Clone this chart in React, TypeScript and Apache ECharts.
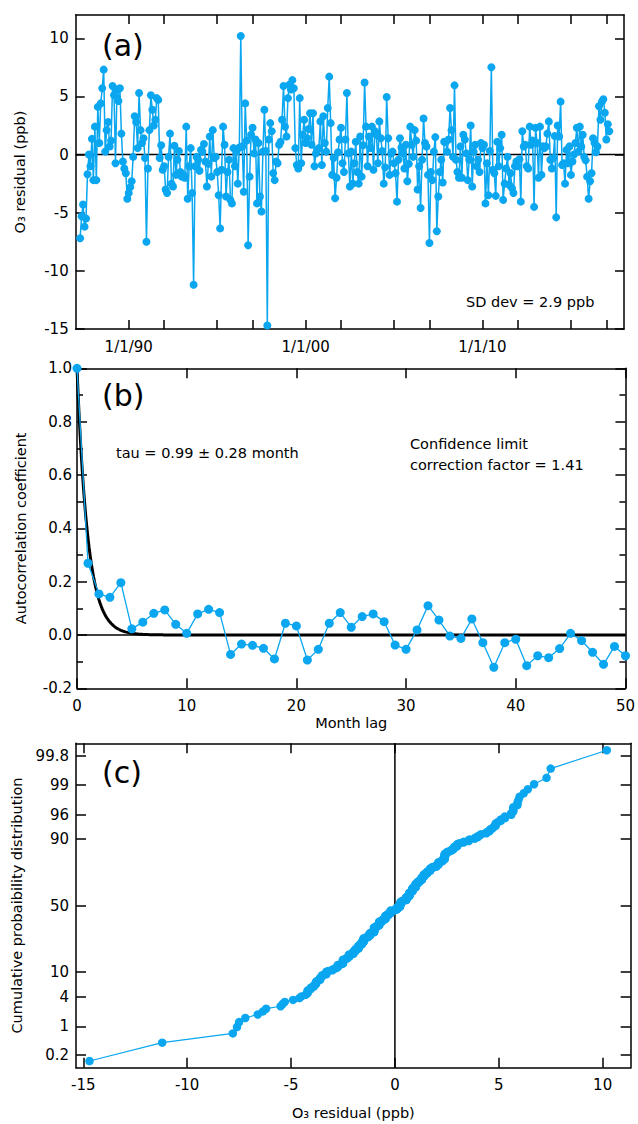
import React, { useEffect, useRef } from "react";
import * as echarts from "echarts";

// ---------- DATA ----------
// Monthly O3 residuals (ppb), first value at 1987.25, one value per month
const START_YEAR = 1987.25;
const residualsA = [
  -7.2, -5.3, -4.3, -6.2, -5.5, -1.7, 0, -1, 1.35, -2.2, 2.4, -2.2, 4.1, 1.0, 4.4, 5.7, 7.3,
  0.25, 2.1, 2.8, 0.7, 1.2, 5.9, 5.1, -0.75, 5.6, 4.6, 5.7, 1.8, -0.6, -1.2, -1.6, -3.8, -3.3, -2.8, -2.3, -0.2, 3.3, 2.8, 0.55, 5.3, 2.1, 1.0, 1.4, -0.3,
  -7.5,
  -1.2, 2.1, 5.1, 3.85, 2.5, 3.0, 4.85, 4.7, -0.3, 0.8, -1.3, -1.0, -3.0, -3.3, -0.2, 1.8, -2.5, -2.75, 0.75, -1.75, -0.45, 0.3, -1.5, -1.9, -1.75, -2.0, 2.4, -3.8, -1.0, 0.55, -3.3,
  -11.2,
  -1, -0.2, -0.45, -1.4, 0.4, 0.25, 0.9, -0.6, -2.75, -0.8, 1.55, -1.9, 2.1,
];
const residualsB = [
  -0.3, -0.2, -1.5, -3.5, -6.35, -1.3, 2.4, 0.85, -3.6, -1.5, -0.45, -3.9, -4.2, 0.55, -1.0, 0.25, -2.5, 0.6,
  10.2,
  0.7, -3.2, 4.4, 1.2,
  -7.8,
  -1.9, 1.7, 2.3, 0.1, 1.3, -4.2, 1.0, -3.6, -4.9, 0.25, 3.85, 0.3,
  -14.7,
  1.3, 2.7, 2.0, -1.6, -2.2, -0.6, -0.75, 0.85, 1.1, 3.0, 5.9, 2.4, 1.55, 4.85, 6.0, 5.6, 6.4, 5.7, 0.55, -0.9, -1.2, 4.85, -0.75, 1.7, 3.0, 1.0, 1.4, 2.2, 3.55, 0.85, 3.55, -1.0, 0.1, 0.4, 0.55, 2.85, -0.9, 3.3, 1.0, 0.25, 4.0,
  6.7,
  2.7, -1.75, -0.3, -3.75, -2.0, 0.2, 1.3, 2.3, -0.75, -1.5, 1.3,
  5.3,
];
const residualsC = [
  0.1, -2.75, 0.25, -2.5, -0.75, 1.1, -1.5, -2.5, 1.55, -1.9, 0.8,
  6.2,
  2.4, -1.0, 1.55, 0.55, 2.4, -1.3, 2.0, 1.7, -0.75, 2.85, 1.4, 0.3, -2.5, -1.1,
  4.95,
  1.4, -1.75, 0.1, 0.25, -0.75, -1.6, -4.05, -0.45, 1.4, 0.6, 0.1, -1.2, 0.85, -2.3, -0.8, 2.4, 0.85, -0.2, 2.1, 1.2, -3.0, -1.0,
  -4.6,
  -0.45, 3.1, 1.0, 0.7, -1.75,
  -7.6,
  -1.5, -2.2, 0.25, 1.5,
  -6.6,
  -3.6, -1.5, -0.45, -2.4, 1.1, 1.1, 0.25, 1.3, 4.0, 2.1, -0.2,
  5.95,
  -0.45, -1.5, -2.0, 0.7, -2.0, 1.7, 1.3, 0.1, -2.2, -0.45, 2.5, -2.75, 0.25, 0.85, -1.0,
  -0.45,
];
const residualsD = [
  -1.5, 1.0, 0.55, 0.85, -4.2, -0.75, -3.5, 0.3,
  7.5,
  -1.3, -1.6, -3.55, 1.1, -1.0, 0.55, 1.7, -3.9, -2.5, -1.2, -0.2, -2.6, -1.6, -2.9, -3.3, -1.0, -0.6, -1.0, -0.4,
  -4.05,
  2.0, 0.7, 0.85, -1.0, -1.2, 2.4, 0.85, 1.2,
  -4.5,
  2.3, 1.0, -2.0, 2.4, -1.75, 0.7, 0.55, 0.7, 1.8, 2.85, -0.45, -1.2, -0.3, 1.6,
  -5.4,
  2.5, 1.55, 4.55,
  -0.9, -0.75, -2.5, 0.4, -0.75, 0.7, -1.75, -0.6, 0, 1.0, 2.3, 0.25, 2.4, 0.7, 1.7, -0.2, -0.5, -1.9, -3.8, -2.3, -1.6, 1.4, 1.0, 0.2, 0.7, 4.15, 3.0, 4.55, 4.75, 3.6, 1.3, 2.6, 2.0,
];
const residuals = [...residualsA, ...residualsB, ...residualsC, ...residualsD];

// Panel (a) axis ticks
const yearTicks = [1990, 1992, 1995, 1997, 2000, 2002, 2005, 2007, 2010, 2012, 2015, 2017];
const yearLabels = [1990, 2000, 2010];
const residTicks = [-15, -10, -5, 0, 5, 10];

// Panel (b): autocorrelation by month lag 0..50
const lags = Array.from({ length: 51 }, (_, i) => i);
const acf = [
  1.0, 0.269, 0.154, 0.141, 0.196, 0.023, 0.048, 0.081, 0.094, 0.040,
  0.006, 0.079, 0.096, 0.084, -0.073, -0.034, -0.039, -0.050, -0.090, 0.044,
  0.034, -0.094, -0.054, 0.044, 0.084, 0.029, 0.069, 0.079, 0.050, -0.038,
  -0.054, 0.019, 0.110, 0.056, -0.004, -0.013, 0.060, -0.029, -0.121, -0.029,
  -0.016, -0.115, -0.078, -0.085, -0.051, 0.006, -0.021, -0.065, -0.110, -0.043,
  -0.078,
];
const TAU = 0.99; // fitted e-folding time (months)

// Panel (c): probability axis labels (%)
const probTicks = [0.2, 1, 4, 10, 50, 90, 96, 99, 99.8];
const residTicksC = [-15, -10, -5, 0, 5, 10];

// ---------- helpers ----------
function probit(p: number): number {
  const a = [-3.969683028665376e1, 2.209460984245205e2, -2.759285104469687e2, 1.38357751867269e2, -3.066479806614716e1, 2.506628277459239];
  const b = [-5.447609879822406e1, 1.615858368580409e2, -1.556989798598866e2, 6.680131188771972e1, -1.328068155288572e1];
  const c = [-7.784894002430293e-3, -3.223964580411365e-1, -2.400758277161838, -2.549732539343734, 4.374664141464968, 2.938163982698783];
  const d = [7.784695709041462e-3, 3.224671290700398e-1, 2.445134137142996, 3.754408661907416];
  const plow = 0.02425;
  const phigh = 1 - plow;
  if (p < plow) {
    const q = Math.sqrt(-2 * Math.log(p));
    return (((((c[0] * q + c[1]) * q + c[2]) * q + c[3]) * q + c[4]) * q + c[5]) / ((((d[0] * q + d[1]) * q + d[2]) * q + d[3]) * q + 1);
  }
  if (p <= phigh) {
    const q = p - 0.5;
    const r = q * q;
    return ((((((a[0] * r + a[1]) * r + a[2]) * r + a[3]) * r + a[4]) * r + a[5]) * q) / (((((b[0] * r + b[1]) * r + b[2]) * r + b[3]) * r + b[4]) * r + 1);
  }
  const q = Math.sqrt(-2 * Math.log(1 - p));
  return -(((((c[0] * q + c[1]) * q + c[2]) * q + c[3]) * q + c[4]) * q + c[5]) / ((((d[0] * q + d[1]) * q + d[2]) * q + d[3]) * q + 1);
}

const BLUE = "#0aa6f0";
const FONT = "DejaVu Sans";

export default function App() {
  const ref = useRef<HTMLDivElement>(null);

  useEffect(() => {
    if (!ref.current) return;
    const chart = echarts.init(ref.current, undefined, { renderer: "svg" });

    const seriesA = residuals.map((v, i) => [START_YEAR + i / 12, v]);
    const sorted = [...residuals].sort((x, y) => x - y);
    const n = sorted.length;
    const seriesC = sorted.map((v, i) => [v, probit((i + 0.5) / n)]);
    const fit: number[][] = [];
    for (let t = 0; t <= 500; t++) fit.push([t / 10, Math.exp(-(t / 10) / TAU)]);
    const zTicks = probTicks.map((p) => probit(p / 100));

    const axisLine = { show: true, onZero: false, lineStyle: { color: "#000", width: 1.5 } };
    const tickStyle = { color: "#000", width: 1.5 };
    const labelStyle = { color: "#000", fontSize: 15, fontFamily: FONT };
    const nameStyle = { color: "#000", fontSize: 14.5, fontFamily: FONT };

    const mirrorX = (gridIndex: number, extra: any) => ({
      gridIndex,
      type: "value",
      position: "top",
      axisLine,
      axisLabel: { show: false },
      splitLine: { show: false },
      ...extra,
    });
    const mirrorY = (gridIndex: number, extra: any) => ({
      gridIndex,
      type: "value",
      position: "right",
      axisLine,
      axisLabel: { show: false },
      splitLine: { show: false },
      ...extra,
    });

    const xA = { min: 1987, max: 2018, axisTick: { inside: true, length: 9, customValues: yearTicks, lineStyle: tickStyle } };
    const yA = { min: -15, max: 12, axisTick: { inside: true, length: 9, customValues: residTicks, lineStyle: tickStyle } };
    const xB = { min: 0, max: 50, interval: 10, axisTick: { inside: true, length: 10, lineStyle: tickStyle } };
    const yB = {
      min: -0.2,
      max: 1.0,
      interval: 0.2,
      axisTick: { inside: true, length: 10, lineStyle: tickStyle },
      minorTick: { show: true, splitNumber: 2, length: 6, lineStyle: tickStyle },
    };
    const xC = { min: -15.35, max: 11.35, axisTick: { inside: true, length: 10, customValues: residTicksC, lineStyle: tickStyle } };
    const yC = { min: -3.12, max: 3.125, axisTick: { inside: true, length: 10, customValues: zTicks, lineStyle: tickStyle } };

    const option: any = {
      animation: false,
      textStyle: { fontFamily: FONT },
      grid: [
        { left: 75.7, width: 548.3, top: 15, height: 314 },
        { left: 77, width: 551, top: 368.3, height: 320 },
        { left: 76, width: 554.7, top: 743.3, height: 324.4 },
      ],
      xAxis: [
        {
          gridIndex: 0,
          type: "value",
          position: "bottom",
          ...xA,
          axisLine,
          splitLine: { show: false },
          axisLabel: {
            ...labelStyle,
            margin: 10,
            customValues: yearLabels,
            formatter: (v: number) => "1/1/" + String(Math.round(v) % 100).padStart(2, "0"),
          },
        },
        mirrorX(0, xA),
        {
          gridIndex: 1,
          type: "value",
          position: "bottom",
          ...xB,
          axisLine,
          splitLine: { show: false },
          axisLabel: { ...labelStyle, margin: 10 },
          name: "Month lag",
          nameLocation: "middle",
          nameGap: 27,
          nameTextStyle: nameStyle,
        },
        mirrorX(1, xB),
        {
          gridIndex: 2,
          type: "value",
          position: "bottom",
          ...xC,
          axisLine,
          splitLine: { show: false },
          axisLabel: { ...labelStyle, margin: 10, customValues: residTicksC },
          name: "O₃ residual (ppb)",
          nameLocation: "middle",
          nameGap: 38,
          nameTextStyle: nameStyle,
        },
        mirrorX(2, xC),
      ],
      yAxis: [
        {
          gridIndex: 0,
          type: "value",
          position: "left",
          ...yA,
          axisLine,
          splitLine: { show: false },
          axisLabel: { ...labelStyle, margin: 7, customValues: residTicks },
          name: "O₃ residual (ppb)",
          nameLocation: "middle",
          nameGap: 48,
          nameTextStyle: nameStyle,
        },
        mirrorY(0, yA),
        {
          gridIndex: 1,
          type: "value",
          position: "left",
          ...yB,
          axisLine,
          splitLine: { show: false },
          axisLabel: { ...labelStyle, margin: 5, formatter: (v: number) => v.toFixed(1) },
          name: "Autocorrelation coefficient",
          nameLocation: "middle",
          nameGap: 49,
          nameTextStyle: nameStyle,
        },
        mirrorY(1, yB),
        {
          gridIndex: 2,
          type: "value",
          position: "left",
          ...yC,
          axisLine,
          splitLine: { show: false },
          axisLabel: {
            ...labelStyle,
            margin: 7,
            customValues: zTicks,
            formatter: (v: number) => {
              let best = 0;
              for (let i = 0; i < zTicks.length; i++) if (Math.abs(zTicks[i] - v) < Math.abs(zTicks[best] - v)) best = i;
              return String(probTicks[best]);
            },
          },
          name: "Cumulative probaibility distribution",
          nameLocation: "middle",
          nameGap: 51,
          nameTextStyle: nameStyle,
        },
        mirrorY(2, yC),
      ],
      series: [
        {
          type: "line",
          xAxisIndex: 0,
          yAxisIndex: 0,
          data: [[1987, 0], [2018, 0]],
          showSymbol: false,
          silent: true,
          lineStyle: { color: "#000", width: 1.5 },
          z: 1,
        },
        {
          type: "line",
          xAxisIndex: 0,
          yAxisIndex: 0,
          data: seriesA,
          symbol: "circle",
          symbolSize: 8,
          showAllSymbol: true,
          clip: false,
          lineStyle: { color: BLUE, width: 1.5 },
          itemStyle: { color: BLUE },
          z: 2,
        },
        {
          type: "line",
          xAxisIndex: 2,
          yAxisIndex: 2,
          data: [[0, 0], [50, 0]],
          showSymbol: false,
          silent: true,
          lineStyle: { color: "#000", width: 1.5 },
          z: 1,
        },
        {
          type: "line",
          xAxisIndex: 2,
          yAxisIndex: 2,
          data: fit,
          showSymbol: false,
          silent: true,
          lineStyle: { color: "#000", width: 3 },
          z: 1,
        },
        {
          type: "line",
          xAxisIndex: 2,
          yAxisIndex: 2,
          data: lags.map((l, i) => [l, acf[i]]),
          symbol: "circle",
          symbolSize: 9,
          showAllSymbol: true,
          clip: false,
          lineStyle: { color: BLUE, width: 1.3 },
          itemStyle: { color: BLUE },
          z: 2,
        },
        {
          type: "line",
          xAxisIndex: 4,
          yAxisIndex: 4,
          data: [[0, -3.12], [0, 3.125]],
          showSymbol: false,
          silent: true,
          lineStyle: { color: "#000", width: 1.5 },
          z: 1,
        },
        {
          type: "line",
          xAxisIndex: 4,
          yAxisIndex: 4,
          data: seriesC,
          symbol: "circle",
          symbolSize: 8.5,
          showAllSymbol: true,
          clip: false,
          lineStyle: { color: BLUE, width: 1.2 },
          itemStyle: { color: BLUE },
          z: 2,
        },
      ],
      graphic: [
        { type: "text", left: 102, top: 30, style: { text: "(a)", fontSize: 30, fontFamily: FONT, fill: "#000" } },
        { type: "text", left: 102, top: 380, style: { text: "(b)", fontSize: 30, fontFamily: FONT, fill: "#000" } },
        { type: "text", left: 102, top: 757, style: { text: "(c)", fontSize: 30, fontFamily: FONT, fill: "#000" } },
        { type: "text", left: 466, top: 294, style: { text: "SD dev = 2.9 ppb", fontSize: 14.5, fontFamily: FONT, fill: "#000" } },
        { type: "text", left: 116, top: 445, style: { text: "tau = 0.99 ± 0.28 month", fontSize: 14.5, fontFamily: FONT, fill: "#000" } },
        { type: "text", left: 410, top: 436, style: { text: "Confidence limit", fontSize: 14.5, fontFamily: FONT, fill: "#000" } },
        { type: "text", left: 410, top: 457, style: { text: "correction factor = 1.41", fontSize: 14.5, fontFamily: FONT, fill: "#000" } },
      ],
    };

    chart.setOption(option);
    return () => chart.dispose();
  }, []);

  return <div ref={ref} style={{ position: "absolute", left: 0, top: 0, width: 638, height: 1124 }} />;
}
